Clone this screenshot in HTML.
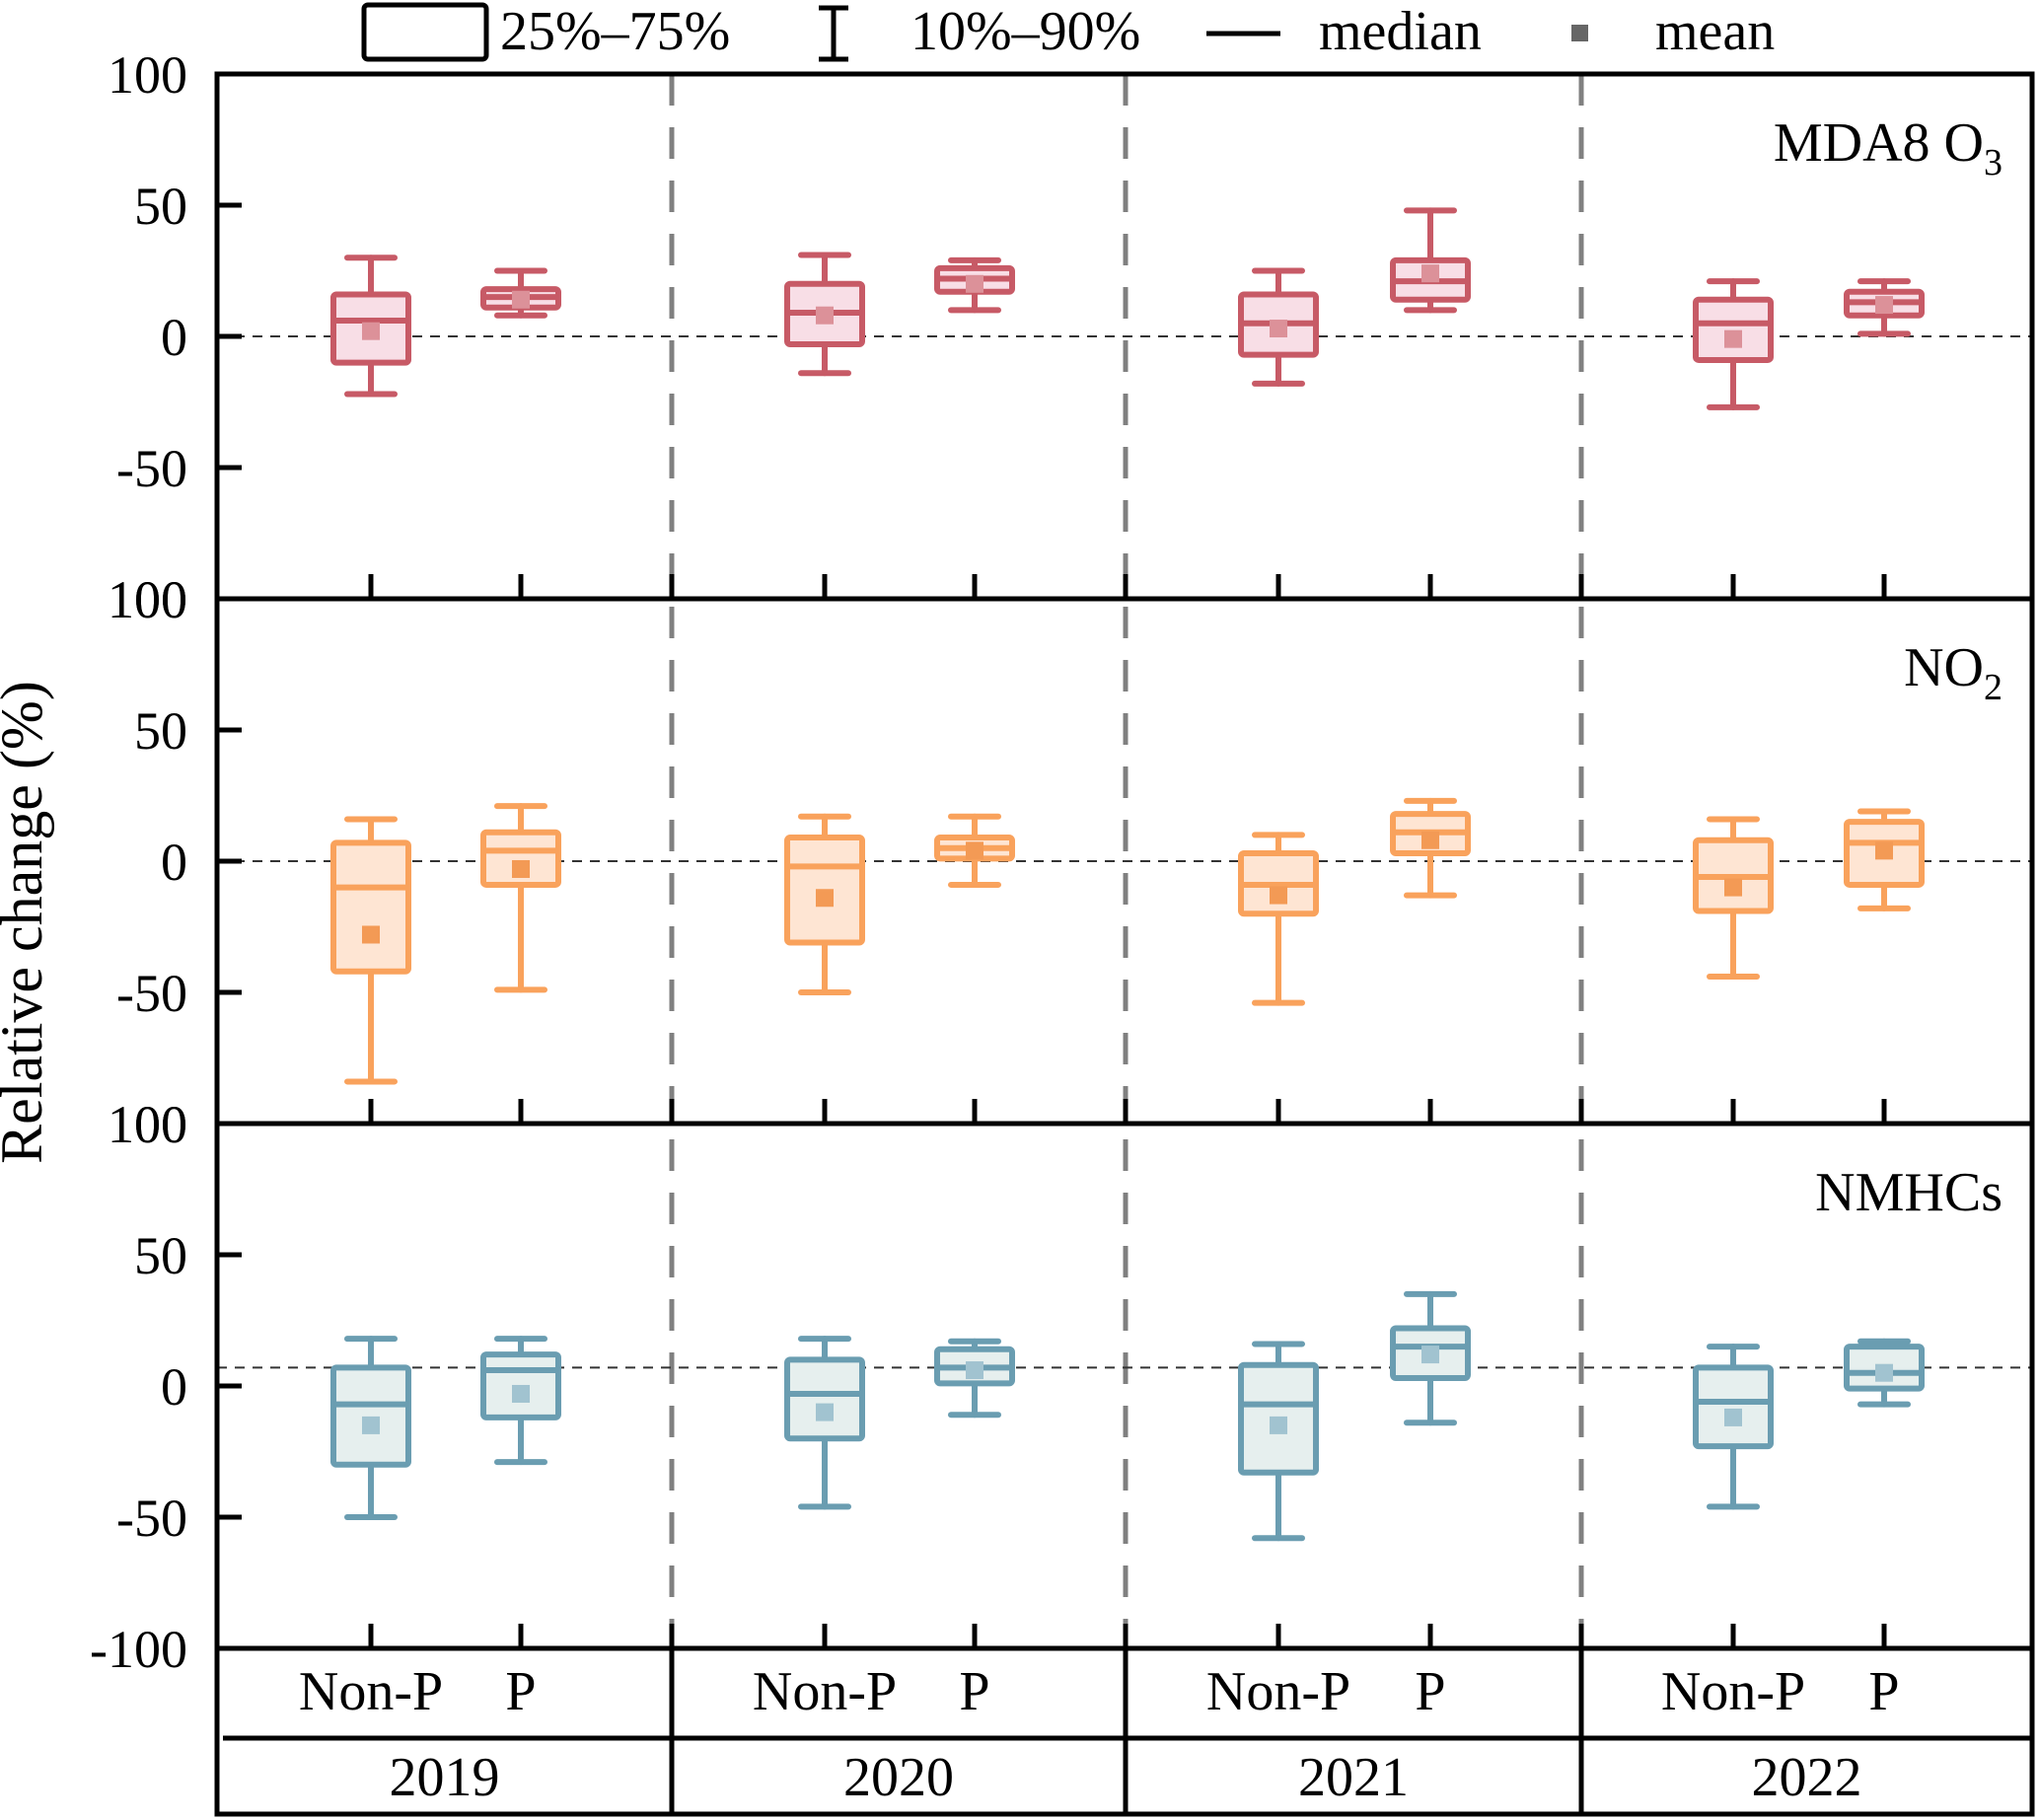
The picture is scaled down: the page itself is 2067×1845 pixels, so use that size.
<!DOCTYPE html>
<html><head><meta charset="utf-8"><style>
html,body{margin:0;padding:0;background:#fff;}
svg, svg text{font-family:"Liberation Serif","Times New Roman",serif;}
svg{display:block;}
</style></head><body>
<svg id="chart" width="2067" height="1845" viewBox="0 0 2067 1845" xmlns="http://www.w3.org/2000/svg" font-family="Liberation Serif, serif">
<g id="legend">
  <rect x="369" y="5" width="124" height="55" rx="4" fill="none" stroke="#000" stroke-width="5"/>
  <text x="507" y="50" font-size="56">25%–75%</text>
  <g stroke="#000" stroke-width="5">
    <line x1="845" y1="8" x2="845" y2="60"/><line x1="830" y1="8" x2="860" y2="8"/><line x1="830" y1="60" x2="860" y2="60"/>
  </g>
  <text x="923" y="50" font-size="56">10%–90%</text>
  <line x1="1223" y1="34" x2="1298" y2="34" stroke="#000" stroke-width="5"/>
  <text x="1337" y="50" font-size="56">median</text>
  <rect x="1593" y="25" width="17" height="17" fill="#666"/>
  <text x="1678" y="50" font-size="56">mean</text>
</g>
<g id="plots"></g>
<text transform="translate(42,935) rotate(-90)" text-anchor="middle" font-size="60">Relative change (%)</text>
</svg>
<script>
const years = ["2019","2020","2021","2022"];
const groups = ["Non-P","P"];
const panelNames = ["MDA8 O3","NO2","NMHCs"];
const refLines = [0, 0, 7];
const whiskLo = [[[-22,8],[-14,10],[-18,10],[-27,1]],[[-84,-49],[-50,-9],[-54,-13],[-44,-18]],[[-50,-29],[-46,-11],[-58,-14],[-46,-7]]];
const boxLo   = [[[-10,11],[-3,17],[-7,14],[-9,8]],[[-42,-9],[-31,1],[-20,3],[-19,-9]],[[-30,-12],[-20,1],[-33,3],[-23,-1]]];
const medians = [[[6,15],[9,22],[5,21],[5,13]],[[-10,4],[-2,5],[-9,11],[-6,7]],[[-7,6],[-3,7],[-7,15],[-6,5]]];
const boxHi   = [[[16,18],[20,26],[16,29],[14,17]],[[7,11],[9,9],[3,18],[8,15]],[[7,12],[10,14],[8,22],[7,15]]];
const whiskHi = [[[30,25],[31,29],[25,48],[21,21]],[[16,21],[17,17],[10,23],[16,19]],[[18,18],[18,17],[16,35],[15,17]]];
const means   = [[[2,14],[8,20],[3,24],[-1,12]],[[-28,-3],[-14,4],[-13,8],[-10,4]],[[-15,-3],[-10,6],[-15,12],[-12,5]]];
const yTicks = [100,50,0,-50];

const colors = [{s:"#c75a66",f:"#f8dee6",m:"#dc9199"},{s:"#f9a25c",f:"#fee5d3",m:"#f39a55"},{s:"#6a9db1",f:"#e6efee",m:"#a1c3d0"}];
const NS="http://www.w3.org/2000/svg";
const L=220,R=2060,panelTop=[75,607,1139],PH=532,TB=1671,BOT=1841;
const divX=[681,1141,1603];
const xPos=[[376,528],[836,988],[1296,1450],[1757,1910]];
const root=document.getElementById('plots');
function el(tag,attrs,parent){const e=document.createElementNS(NS,tag);for(const k in attrs)e.setAttribute(k,attrs[k]);(parent||root).appendChild(e);return e;}
function yScale(p,v){return panelTop[p]+(100-v)/200*PH;}

divX.forEach((x,i)=>{const d=el('line',{x1:x,y1:75,x2:x,y2:TB,stroke:'#808080','stroke-width':5,'stroke-dasharray':'32 22'});

});

for(let p=0;p<3;p++){
  const g=el('g',{});
  
  
  const c=colors[p];
  const ry=yScale(p,refLines[p]);
  const rl=el('line',{x1:L,y1:ry,x2:R,y2:ry,stroke:'#333','stroke-width':2,'stroke-dasharray':'10 8'},g);
  
  
  yTicks.forEach(t=>{const y=yScale(p,t);
    const tk=el('line',{x1:L,y1:y,x2:L+25,y2:y,stroke:'#000','stroke-width':5},g);
    
    
    const tl=el('text',{x:L-30,y:y+19,'text-anchor':'end','font-size':54},g);tl.textContent=String(t);
    
    });
  const bl=el('text',{x:L-30,y:yScale(p,-100)+19,'text-anchor':'end','font-size':54},g);
  bl.textContent=p===2?'-100':'100';
  
  
  const by=panelTop[p]+PH;
  xPos.flat().concat(divX).forEach(x=>{const t=el('line',{x1:x,y1:by,x2:x,y2:by-25,stroke:'#000','stroke-width':5},g);
    
    });
  for(let yi=0;yi<4;yi++)for(let gi=0;gi<2;gi++){
    const x=xPos[yi][gi],hw=38,cw=24;
    const b=el('g',{stroke:c.s,'stroke-width':6,'stroke-linecap':'round'},g);
    
    
    const yl=yScale(p,whiskLo[p][yi][gi]),yh=yScale(p,whiskHi[p][yi][gi]);
    const q1=yScale(p,boxLo[p][yi][gi]),q3=yScale(p,boxHi[p][yi][gi]);
    el('line',{x1:x,y1:yl,x2:x,y2:q1},b);el('line',{x1:x,y1:yh,x2:x,y2:q3},b);
    el('line',{x1:x-cw,y1:yl,x2:x+cw,y2:yl},b);el('line',{x1:x-cw,y1:yh,x2:x+cw,y2:yh},b);
    el('rect',{x:x-hw,y:q3,width:2*hw,height:q1-q3,fill:c.f,rx:3},b);
    const my=yScale(p,medians[p][yi][gi]);
    el('line',{x1:x-hw,y1:my,x2:x+hw,y2:my,'stroke-linecap':'butt'},b);
    const mm=yScale(p,means[p][yi][gi]);
    el('rect',{x:x-9,y:mm-9,width:18,height:18,fill:c.m,stroke:'none'},b);
  }
  const fr=el('rect',{x:L,y:panelTop[p],width:R-L,height:PH,fill:'none',stroke:'#000','stroke-width':5},g);
  
  
}
const lab=[[panelTop[0]+88,'MDA8 O','3'],[panelTop[1]+88,'NO','2'],[panelTop[2]+88,'NMHCs','']];
lab.forEach((l,i)=>{const t=el('text',{x:2030,y:l[0],'text-anchor':'end','font-size':56});
  
  
  const a=document.createElementNS(NS,'tspan');a.textContent=l[1];t.appendChild(a);
  if(l[2]){const s=document.createElementNS(NS,'tspan');s.setAttribute('font-size','38');s.setAttribute('dy','14');s.textContent=l[2];t.appendChild(s);}});
const tb=el('g',{});


el('rect',{x:L,y:TB,width:R-L,height:BOT-TB-2,fill:'none',stroke:'#000','stroke-width':5},tb);
el('line',{x1:226,y1:1762,x2:R,y2:1762,stroke:'#000','stroke-width':5},tb);
divX.forEach(x=>el('line',{x1:x,y1:TB,x2:x,y2:BOT,stroke:'#000','stroke-width':5},tb));
const bounds=[L].concat(divX).concat([R]);
for(let yi=0;yi<4;yi++){
  for(let gi=0;gi<2;gi++){const t=el('text',{x:xPos[yi][gi],y:1733,'text-anchor':'middle','font-size':56},tb);t.textContent=groups[gi];
    
    }
  const t=el('text',{x:(bounds[yi]+bounds[yi+1])/2,y:1820,'text-anchor':'middle','font-size':56},tb);t.textContent=years[yi];
  
  
}
</script>
</body></html>
